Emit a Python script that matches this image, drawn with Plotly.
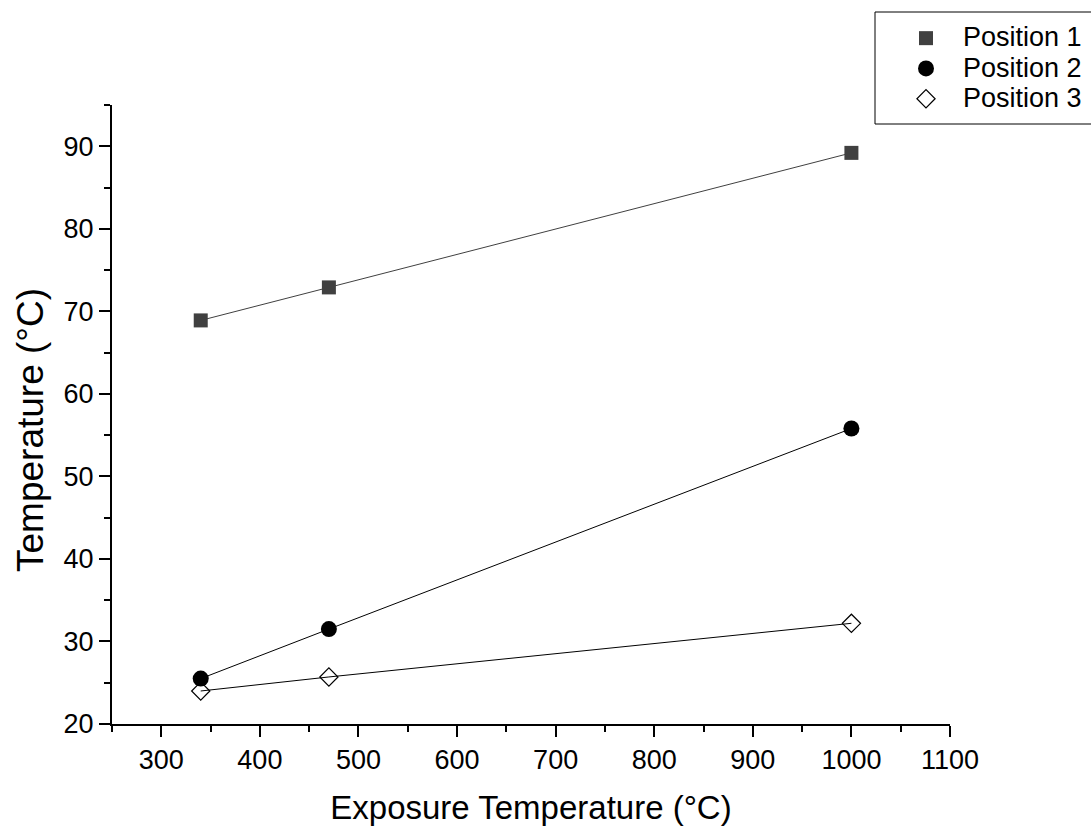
import plotly.graph_objects as go

exposure = [340, 470, 1000]
pos1 = [68.9, 72.9, 89.2]
pos2 = [25.5, 31.5, 55.8]
pos3 = [24.0, 25.7, 32.2]
names = ["Position 1", "Position 2", "Position 3"]

FONT = "Arial, Liberation Sans, sans-serif"

W, H = 1091, 826
L, R, T, B = 112, 950, 105, 724

fig = go.Figure()

series = [
    (pos1, names[0], "#404040", dict(symbol="square", size=14, color="#404040",
                                      line=dict(width=0))),
    (pos2, names[1], "#000000", dict(symbol="circle", size=16, color="#000000",
                                      line=dict(width=0))),
    (pos3, names[2], "#000000", dict(symbol="diamond-open", size=14, color="#000000",
                                      line=dict(width=1.2))),
]

for ys, nm, lc, mk in series:
    fig.add_trace(go.Scatter(x=exposure, y=ys, mode="lines", showlegend=False,
                             line=dict(color=lc, width=1), hoverinfo="skip"))
for ys, nm, lc, mk in series:
    fig.add_trace(go.Scatter(x=exposure, y=ys, mode="markers",
                             name='<span style="font-size:27px">' + nm + '</span>',
                             marker=mk))

def px2x(px):
    return (px - L) / (R - L)

def px2y(py):
    return (B - py) / (B - T)

# legend frame (open on the right, it runs past the figure edge)
x0, x1, yb, yt = px2x(875), px2x(1091), px2y(124), px2y(12)
for (a, b, c, d) in [(x0, yt, x1, yt), (x0, yb, x1, yb), (x0, yb, x0, yt)]:
    fig.add_shape(type="line", xref="paper", yref="paper", x0=a, y0=b, x1=c, y1=d,
                  line=dict(color="black", width=1))

fig.add_annotation(text="Temperature (°C)", xref="paper", yref="paper",
                   x=px2x(30), y=px2y(430), xanchor="center", yanchor="middle",
                   textangle=-90, showarrow=False,
                   font=dict(family=FONT, size=37, color="black"))

fig.update_layout(
    width=W, height=H,
    margin=dict(l=L, r=W - R, t=T, b=H - B, autoexpand=False),
    paper_bgcolor="white", plot_bgcolor="white",
    font=dict(family=FONT, size=24, color="black"),
    showlegend=True,
    legend=dict(x=px2x(889), y=px2y(18), xanchor="left", yanchor="top",
                bgcolor="rgba(0,0,0,0)", bordercolor="rgba(0,0,0,0)", borderwidth=0,
                itemwidth=64,
                font=dict(family=FONT, size=21, color="black"),
                tracegroupgap=0),
    xaxis=dict(range=[250, 1100], tickvals=[300, 400, 500, 600, 700, 800, 900, 1000, 1100],
               showgrid=False, zeroline=False, showline=True, linecolor="black", linewidth=2,
               ticks="outside", ticklen=11, tickwidth=2, tickcolor="black",
               tickfont=dict(family=FONT, size=27, color="black"),
               minor=dict(tickvals=[250, 350, 450, 550, 650, 750, 850, 950, 1050],
                          ticks="outside", ticklen=6, tickwidth=2, tickcolor="black"),
               title=dict(text="Exposure Temperature (°C)", font=dict(family=FONT, size=33),
                          standoff=22)),
    yaxis=dict(range=[20, 95], tickvals=[20, 30, 40, 50, 60, 70, 80, 90],
               showgrid=False, zeroline=False, showline=True, linecolor="black", linewidth=2,
               ticks="outside", ticklen=11, tickwidth=2, tickcolor="black",
               tickfont=dict(family=FONT, size=27, color="black"),
               minor=dict(tickvals=[25, 35, 45, 55, 65, 75, 85, 95],
                          ticks="outside", ticklen=6, tickwidth=2, tickcolor="black")),
)

fig.write_html("out.html")
